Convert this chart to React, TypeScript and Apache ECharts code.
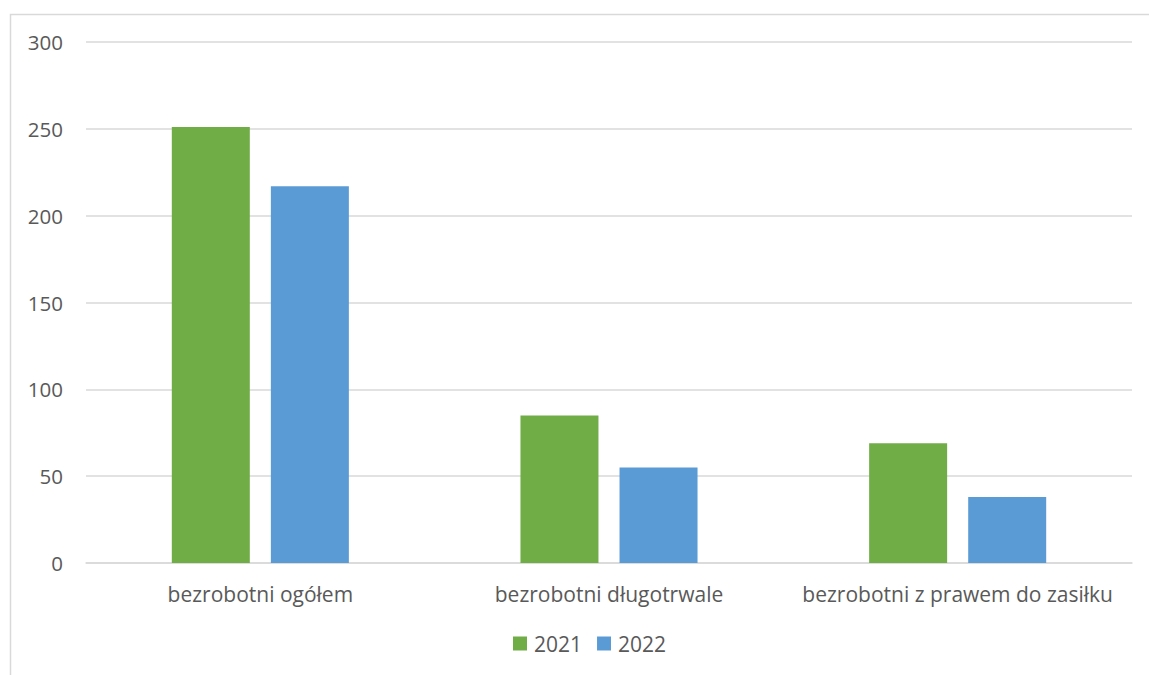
import React, { useEffect, useRef } from "react";
import * as echarts from "echarts";

const categories = ["bezrobotni ogółem", "bezrobotni długotrwale", "bezrobotni z prawem do zasiłku"];
const series2021 = [251, 85, 69];
const series2022 = [217, 55, 38];
const seriesNames = ["2021", "2022"];

export default function App() {
  const ref = useRef<HTMLDivElement>(null);
  useEffect(() => {
    document.body.style.margin = "0";
    const chart = echarts.init(ref.current!, null, { renderer: "svg" });
    const font = "'Open Sans', sans-serif";
    chart.setOption({
      animation: false,
      backgroundColor: "#ffffff",
      textStyle: { fontFamily: font },
      graphic: [
        {
          type: "rect",
          left: 8,
          top: 12,
          shape: { x: 0, y: 0, width: 1200, height: 700 },
          style: { fill: "none", stroke: "#d9d9d9", lineWidth: 1.5 },
          silent: true,
          z: -1,
        },
      ],
      grid: { left: 86, right: 17, top: 42, bottom: 112, containLabel: false },
      legend: {
        bottom: 16,
        left: 508,
        itemWidth: 14,
        itemHeight: 14,
        itemGap: 15,
        icon: "rect",
        textStyle: { fontSize: 21, color: "#595959", fontFamily: font, padding: [0, 0, 0, 2] },
        data: seriesNames,
      },
      xAxis: {
        type: "category",
        data: categories,
        axisLine: { lineStyle: { color: "#d9d9d9", width: 1.5 } },
        axisTick: { show: false },
        axisLabel: { fontSize: 21, color: "#595959", margin: 20, fontFamily: font, interval: 0 },
      },
      yAxis: {
        type: "value",
        min: 0,
        max: 300,
        interval: 50,
        axisLine: { show: false },
        axisTick: { show: false },
        axisLabel: { fontSize: 20.5, color: "#595959", margin: 23, fontFamily: font },
        splitLine: { lineStyle: { color: "#d9d9d9", width: 1.5 } },
      },
      series: [
        {
          name: seriesNames[0],
          type: "bar",
          data: series2021,
          barWidth: 78,
          barGap: "27%",
          itemStyle: { color: "#70AD47" },
        },
        {
          name: seriesNames[1],
          type: "bar",
          data: series2022,
          barWidth: 78,
          barGap: "27%",
          itemStyle: { color: "#5B9BD5" },
        },
      ],
    });
    return () => chart.dispose();
  }, []);
  return <div ref={ref} style={{ width: 1149, height: 675 }} />;
}
